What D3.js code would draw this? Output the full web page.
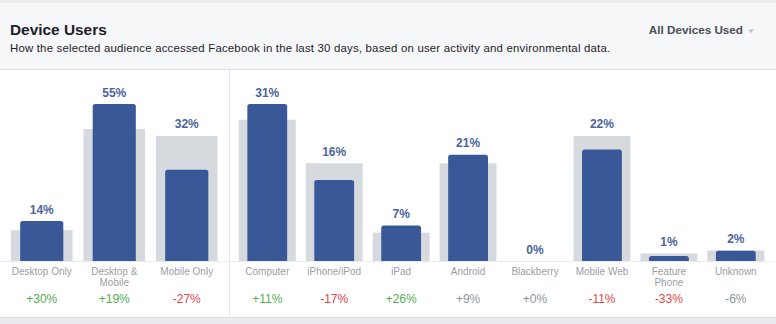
<!DOCTYPE html>
<html>
<head>
<meta charset="utf-8">
<script src="https://cdn.jsdelivr.net/npm/d3@7/dist/d3.min.js"></script>
<style>
  html, body { margin: 0; padding: 0; background: #ffffff; }
  svg { display: block; font-family: Helvetica, Arial, "Liberation Sans", sans-serif; }
</style>
</head>
<body>
<svg id="chart" width="776" height="324"></svg>
<script>
// ---- Data ----
const titleText = "Device Users";
const subtitleText = "How the selected audience accessed Facebook in the last 30 days, based on user activity and environmental data.";
const menuText = "All Devices Used";

const groupACategories = ["Desktop Only", "Desktop & Mobile", "Mobile Only"];
const groupAValues = [14, 55, 32];
const groupABenchmark = [10.8, 46.2, 43.8];
const groupAChange = [30, 19, -27];
const groupASignificant = [true, true, true];

const groupBCategories = ["Computer", "iPhone/iPod", "iPad", "Android", "Blackberry", "Mobile Web", "Feature Phone", "Unknown"];
const groupBValues = [31, 16, 7, 21, 0, 22, 1, 2];
const groupBBenchmark = [27.9, 19.3, 5.6, 19.3, 0, 24.7, 1.5, 2.1];
const groupBChange = [11, -17, 26, 9, 0, -11, -33, -6];
const groupBSignificant = [true, true, true, false, false, true, true, false];

// ---- Layout ----
const W = 776, H = 324;
const svg = d3.select("#chart");
const baseY = 261, topY = 104;

// Background & frame
svg.append("rect").attr("x", 0).attr("y", 0).attr("width", W).attr("height", H).attr("fill", "#ffffff");
svg.append("rect").attr("x", 0).attr("y", 0).attr("width", W).attr("height", 70).attr("fill", "#f6f7f9");
svg.append("rect").attr("x", 0).attr("y", 0).attr("width", W).attr("height", 3).attr("fill", "#e9ebee");
svg.append("line").attr("x1", 0).attr("x2", W).attr("y1", 69.5).attr("y2", 69.5).attr("stroke", "#dddfe2");
svg.append("rect").attr("x", 0).attr("y", 317).attr("width", W).attr("height", H - 317).attr("fill", "#e9ebee");
svg.append("line").attr("x1", 0).attr("x2", W).attr("y1", 317.5).attr("y2", 317.5).attr("stroke", "#dddfe2");
svg.append("line").attr("x1", 229.5).attr("x2", 229.5).attr("y1", 70).attr("y2", 317).attr("stroke", "#e5e6e9");

// Header
svg.append("text").attr("x", 10).attr("y", 35).text(titleText)
  .attr("font-size", "15.4px").attr("font-weight", "bold").attr("fill", "#1d2129");
svg.append("text").attr("x", 10).attr("y", 52).text(subtitleText)
  .attr("font-size", "11.4px").attr("letter-spacing", "0.2px").attr("fill", "#1d2129");
svg.append("text").attr("x", 743).attr("y", 34).attr("text-anchor", "end").text(menuText)
  .attr("font-size", "11.7px").attr("font-weight", "bold").attr("fill", "#4b4f56");
svg.append("path").attr("d", "M748,29.5 L754,29.5 L751,33 Z").attr("fill", "#bec2c9");

function drawPanel(categories, values, bench, change, signif, x0, x1) {
  const x = d3.scaleBand().domain(categories).range([x0, x1]).paddingInner(0.15).paddingOuter(0.075);
  const y = d3.scaleLinear().domain([0, d3.max(values)]).range([baseY, topY]);
  const g = svg.append("g");
  const data = categories.map((c, i) => ({ c, v: values[i], b: bench[i], ch: change[i], s: signif[i] }));
  const bw = x.bandwidth();
  const iw = bw * 0.7;

  // axis baseline
  g.append("line").attr("x1", x0 - 5).attr("x2", x1 + 5).attr("y1", baseY + 0.5).attr("y2", baseY + 0.5)
    .attr("stroke", "#e9ebee");

  g.selectAll(".bench").data(data).enter().append("rect")
    .attr("x", d => x(d.c)).attr("width", bw)
    .attr("y", d => y(d.b)).attr("height", d => baseY - y(d.b))
    .attr("fill", "#d6d9dd");

  g.selectAll(".val").data(data.filter(d => d.v > 0)).enter().append("path")
    .attr("d", d => {
      const xl = x(d.c) + (bw - iw) / 2, xr = xl + iw, yt = y(d.v), r = Math.min(2.5, (baseY - yt) / 2);
      return `M${xl},${baseY} L${xl},${yt + r} Q${xl},${yt} ${xl + r},${yt} L${xr - r},${yt} Q${xr},${yt} ${xr},${yt + r} L${xr},${baseY} Z`;
    })
    .attr("fill", "#385898");

  g.selectAll(".vlabel").data(data).enter().append("text")
    .attr("x", d => x(d.c) + bw / 2)
    .attr("y", d => Math.min(y(d.v), y(d.b)) - 7.5)
    .attr("text-anchor", "middle").attr("font-size", "12px").attr("font-weight", "bold")
    .attr("fill", "#4c649b")
    .text(d => d.v + "%");

  // category labels with wrapping
  data.forEach(d => {
    const t = g.append("text").attr("x", x(d.c) + bw / 2).attr("y", 274.5)
      .attr("text-anchor", "middle").attr("font-size", "10px").attr("fill", "#9a9ea6");
    const words = d.c.split(" ");
    let line = [];
    let tspan = t.append("tspan").attr("x", x(d.c) + bw / 2).attr("dy", 0);
    words.forEach(w => {
      line.push(w);
      tspan.text(line.join(" "));
      if (tspan.node().getComputedTextLength() > bw && line.length > 1) {
        line.pop();
        tspan.text(line.join(" "));
        line = [w];
        tspan = t.append("tspan").attr("x", x(d.c) + bw / 2).attr("dy", 11.5).text(w);
      }
    });
  });

  g.selectAll(".clabel").data(data).enter().append("text")
    .attr("x", d => x(d.c) + bw / 2).attr("y", 303)
    .attr("text-anchor", "middle").attr("font-size", "12px")
    .attr("fill", d => !d.s ? "#8d949e" : (d.ch > 0 ? "#52ad52" : "#e0474c"))
    .text(d => (d.ch >= 0 ? "+" : "") + d.ch + "%");
}

drawPanel(groupACategories, groupAValues, groupABenchmark, groupAChange, groupASignificant, 5.5, 223);
drawPanel(groupBCategories, groupBValues, groupBBenchmark, groupBChange, groupBSignificant, 233.8, 769.3);
</script>
</body>
</html>
